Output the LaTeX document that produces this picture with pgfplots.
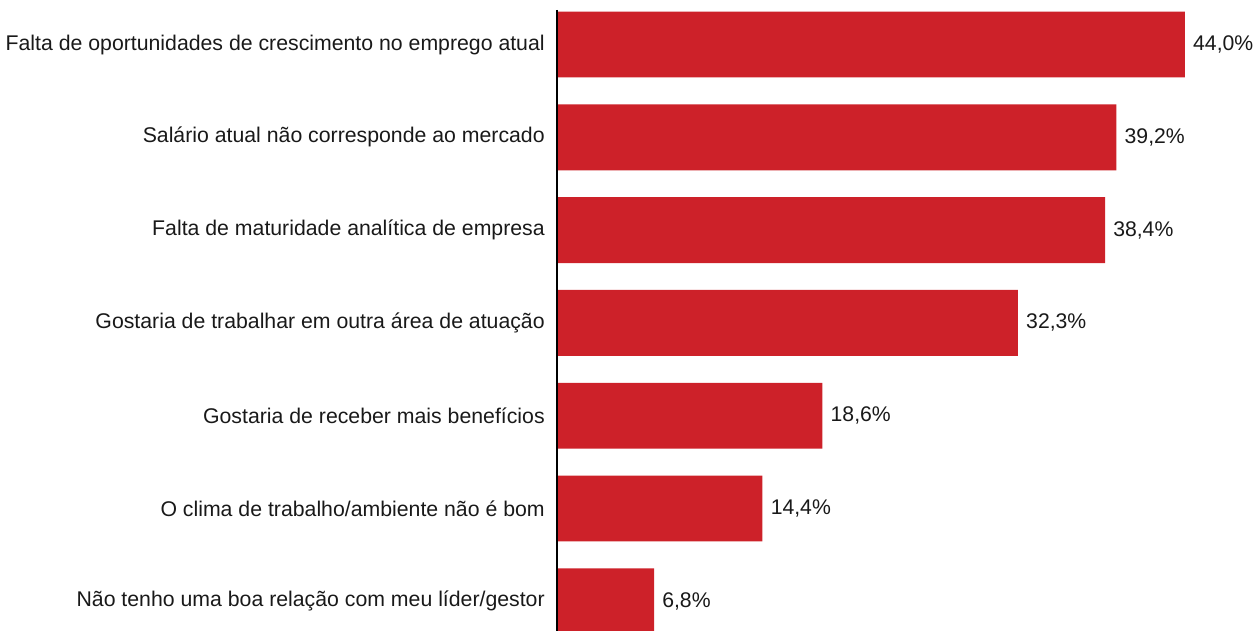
\documentclass[border=0pt]{standalone}
\usepackage{fontspec}
\setmainfont{Liberation Sans}
\usepackage{pgfplots}
\pgfplotsset{compat=1.18}
\definecolor{barred}{RGB}{205,33,41}
\begin{document}
\begin{tikzpicture}
\useasboundingbox (-417.75pt,0pt) rectangle (524.25pt,473.25pt);
\begin{axis}[
 at={(0pt,0pt)}, anchor=south west,
 scale only axis, width=524.25pt, height=465.75pt,
 xmin=0, xmax=48.98, ymin=-0.372, ymax=6.32, y dir=reverse,
 axis on top,
 axis x line=none, axis y line*=left,
 axis line style={-, line width=2.1pt, black},
 every outer y axis line/.append style={-, line width=2.1pt, black},
 ytick={0,1,2,3,4,5,6},
 yticklabels={Falta de oportunidades de crescimento no emprego atual,
   Salário atual não corresponde ao mercado,
   Falta de maturidade analítica de empresa,
   Gostaria de trabalhar em outra área de atuação,
   Gostaria de receber mais benefícios,
   O clima de trabalho/ambiente não é bom,
   Não tenho uma boa relação com meu líder/gestor},
 major tick length=0pt,
 yticklabel style={inner sep=0pt, xshift=-9pt, font=\fontsize{15.95}{19}\selectfont, text=black!90},
 xbar, bar width=0.71, bar shift=0pt,
 point meta=explicit symbolic,
 nodes near coords,
 nodes near coords style={anchor=west, inner sep=0pt, xshift=6pt, font=\fontsize{15.9}{19}\selectfont, text=black!90},
]
\addplot[fill=barred, draw=none] coordinates {
 (44.0,0) [44,0\%]
 (39.2,1) [39,2\%]
 (38.4,2) [38,4\%]
 (32.3,3) [32,3\%]
 (18.6,4) [18,6\%]
 (14.4,5) [14,4\%]
 (6.8,6) [6,8\%]
};
\end{axis}
\end{tikzpicture}
\end{document}
